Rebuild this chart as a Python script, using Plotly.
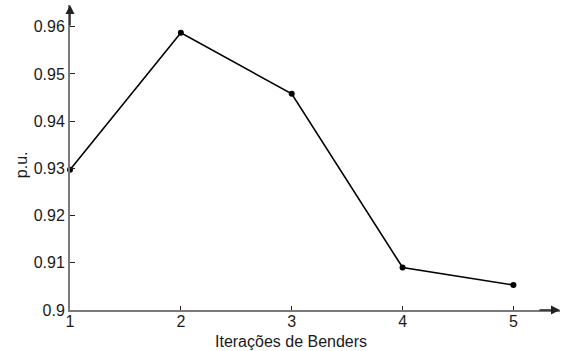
import plotly.graph_objects as go

iterations = [1, 2, 3, 4, 5]
pu_values = [0.9297, 0.9587, 0.9458, 0.9090, 0.9053]
y_ticks = [0.90, 0.91, 0.92, 0.93, 0.94, 0.95, 0.96]
y_tick_labels = ["0.9", "0.91", "0.92", "0.93", "0.94", "0.95", "0.96"]
x_ticks = [1, 2, 3, 4, 5]
x_title = "Iterações de Benders"
y_title = "p.u."

XMAX = 5.42
YMAX = 0.9646
AXC = "#7a7a7a"
FONT = "Liberation Sans, Arial, sans-serif"
FS = 16

fig = go.Figure()
fig.add_trace(go.Scatter(
    x=iterations, y=pu_values, mode="lines+markers",
    line=dict(color="black", width=1.6),
    marker=dict(color="black", size=6),
    cliponaxis=False, showlegend=False,
))

fig.update_layout(
    width=563, height=351,
    margin=dict(l=70, r=3, t=5, b=41, autoexpand=False),
    paper_bgcolor="white", plot_bgcolor="white",
    font=dict(family=FONT, size=FS, color="#1a1a1a"),
    xaxis=dict(
        range=[1, XMAX], tickvals=x_ticks, ticktext=[str(v) for v in x_ticks],
        showgrid=False, zeroline=False, showline=True, linecolor=AXC, linewidth=2,
        ticks="inside", ticklen=4, tickcolor="#222", tickwidth=1,
        automargin=False, ticklabelstandoff=-4,
    ),
    yaxis=dict(
        range=[0.9, YMAX], tickvals=y_ticks, ticktext=y_tick_labels,
        showgrid=False, zeroline=False, showline=True, linecolor=AXC, linewidth=2,
        ticks="inside", ticklen=5, tickcolor="#222", tickwidth=1,
        automargin=False, ticklabelstandoff=0,
    ),
)

# axis titles
fig.add_annotation(text=x_title, xref="paper", yref="paper", x=0.45, y=0,
                   yshift=-31, showarrow=False, xanchor="center", yanchor="middle",
                   font=dict(size=FS))
fig.add_annotation(text=y_title, xref="paper", yref="paper", x=0, y=0.475,
                   xshift=-49, showarrow=False, textangle=-90,
                   xanchor="center", yanchor="middle", font=dict(size=FS))

# arrow heads at the axis ends
fig.add_annotation(x=0, y=1, xref="paper", yref="paper", ax=0, ay=22,
                   showarrow=True, arrowhead=2, arrowsize=1.2, arrowwidth=1.5,
                   arrowcolor="#222", text="")
fig.add_annotation(x=1, y=0, xref="paper", yref="paper", ax=-22, ay=0,
                   showarrow=True, arrowhead=2, arrowsize=1.2, arrowwidth=1.5,
                   arrowcolor="#222", text="")

fig.write_html("out.html", config={"displayModeBar": False},
               post_script="document.body.style.margin='0';")
